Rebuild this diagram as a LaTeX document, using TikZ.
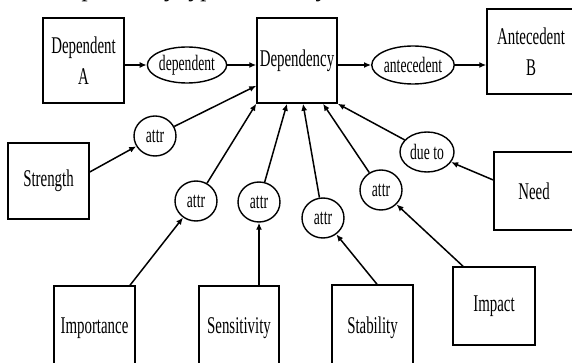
\documentclass[tikz,border=0pt]{standalone}
\usepackage{fontspec}
\setmainfont{Liberation Serif}[FakeStretch=0.62]
\newfontfamily\capfont{Liberation Serif}
\usetikzlibrary{shapes.geometric,arrows.meta,calc}
\begin{document}
\begin{tikzpicture}[x=1pt,y=-1pt,
  box/.style={draw, line width=1.5pt, rectangle, inner sep=0pt, align=center, font=\fontsize{24}{31}\selectfont},
  rel/.style={draw, ellipse, line width=1.4pt, inner sep=0pt, font=\fontsize{22}{24}\selectfont, minimum width=42pt, minimum height=40pt},
  con/.style={line width=1.5pt, -{Latex[length=7pt,width=6pt]}}]
\useasboundingbox (0,0) rectangle (572,363);
\clip (0,0) rectangle (572,363);
\node[anchor=base west, inner sep=0pt, font=\capfont\itshape\fontsize{25}{30}\selectfont] (cap) at (54,-3.5) {Dependency type taxonomy};
% boxes
\node[box, minimum width=81pt, minimum height=85pt] (depA) at (83.5,60.5) {Dependent\\A};
\node[box, minimum width=80pt, minimum height=85pt] (dep) at (297,60.5) {Dependency};
\node[box, minimum width=88pt, minimum height=85pt] (antB) at (531,51.5) {Antecedent\\B};
\node[box, minimum width=81pt, minimum height=76pt] (strength) at (48.5,181) {Strength};
\node[box, minimum width=80pt, minimum height=78pt] (need) at (534,191) {Need};
\node[box, minimum width=81pt, minimum height=84pt] (importance) at (94.5,328) {Importance};
\node[box, minimum width=80pt, minimum height=84pt] (sensitivity) at (239,328) {Sensitivity};
\node[box, minimum width=81pt, minimum height=85pt] (stability) at (372.5,327.5) {Stability};
\node[box, minimum width=82pt, minimum height=78pt] (impact) at (494,306) {Impact};
% relation ellipses
\node[rel, minimum width=70pt, minimum height=36pt] (dependent) at (187,65) {dependent};
\node[rel, minimum width=70pt, minimum height=38pt] (antecedent) at (413,65) {antecedent};
\node[rel] (attr1) at (155,136) {attr};
\node[rel] (attr2) at (196,201) {attr};
\node[rel] (attr3) at (259,202) {attr};
\node[rel] (attr4) at (323,218) {attr};
\node[rel] (attr5) at (381,190) {attr};
\node[rel, minimum width=54pt] (dueto) at (427,152) {due to};
% attachment points
\coordinate (s1) at ($(strength.east)+(0,-9)$);
\coordinate (d1) at ($(dep.south west)+(0,-18)$);
\coordinate (i1) at ($(importance.north)+(35.5,0)$);
\coordinate (d3) at ($(dep.south)+(-10,0)$);
\coordinate (t1) at ($(stability.north)+(4.5,0)$);
\coordinate (d4) at ($(dep.south)+(6,0)$);
\coordinate (m1) at ($(impact.north)+(-31,0)$);
\coordinate (d5) at ($(dep.south)+(26,0)$);
\coordinate (n1) at ($(need.west)+(0,-11)$);
% connectors
\draw[con] (depA.east |- dependent.west) -- (dependent.west);
\draw[con] (dependent.east) -- (dep.west |- dependent.east);
\draw[con] (dep.east |- antecedent.west) -- (antecedent.west);
\draw[con] (antecedent.east) -- (antB.west |- antecedent.east);
\draw[con] (s1) -- (attr1);
\draw[con] (attr1) -- (d1);
\draw[con] (i1) -- (attr2);
\draw[con] (attr2) -- (dep.south west);
\draw[con] (sensitivity.north -| attr3.south) -- (attr3.south);
\draw[con] (attr3) -- (d3);
\draw[con] (t1) -- (attr4);
\draw[con] (attr4) -- (d4);
\draw[con] (m1) -- (attr5);
\draw[con] (attr5) -- (d5);
\draw[con] (n1) -- (dueto);
\draw[con] (dueto) -- (dep.south east);
\end{tikzpicture}
\end{document}
